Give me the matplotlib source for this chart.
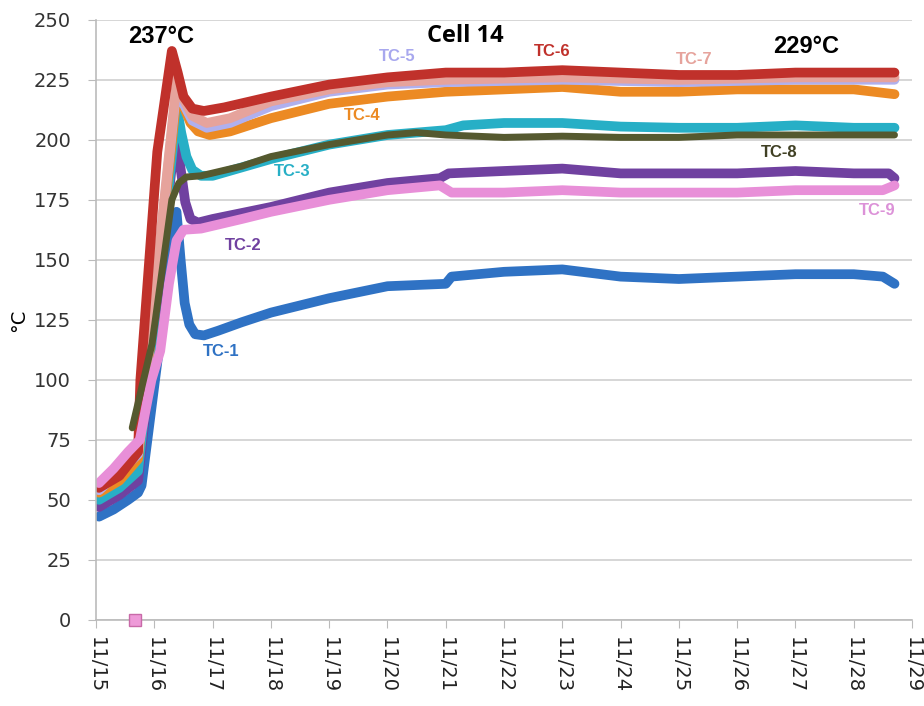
import numpy as np
import matplotlib.pyplot as plt

# time in days since 11/15 00:00, temperature in deg C
t1 = [0.05, 0.3, 0.55, 0.72, 0.78, 1.38, 1.45, 1.52, 1.6, 1.7, 1.85, 2.1, 2.5, 3, 4, 5, 6, 6.1, 7, 8, 9, 10, 11, 12, 13, 13.5, 13.7]
tc1 = [43, 46, 50, 53, 56, 170, 150, 132, 123, 119, 118.5, 120.5, 124, 128, 134, 139, 140, 143, 145, 146, 143, 142, 143, 144, 144, 143, 140]

t2 = [0.05, 0.4, 0.72, 1.37, 1.45, 1.53, 1.62, 1.75, 2, 3, 4, 5, 5.9, 6.05, 7, 8, 9, 10, 11, 12, 13, 13.6, 13.7]
tc2 = [47, 52, 58, 205, 188, 174, 167, 165.5, 167, 172, 178, 182, 184, 186, 187, 188, 186, 186, 186, 187, 186, 186, 184]

t3 = [0.05, 0.4, 0.72, 1.39, 1.46, 1.55, 1.65, 1.8, 2, 3, 4, 5, 6, 6.3, 7, 8, 9, 10, 11, 12, 13, 13.7]
tc3 = [50, 55, 62, 213, 203, 193, 187.5, 185, 185, 192, 198, 202, 204, 206, 207, 207, 205.5, 205, 205, 206, 205, 205]

t4 = [0.05, 0.4, 0.72, 1.4, 1.5, 1.62, 1.75, 1.95, 2.3, 3, 4, 5, 6, 7, 8, 9, 10, 11, 12, 13, 13.7]
tc4 = [53, 58, 67, 222, 214, 207, 203.5, 202, 203.5, 209, 215, 218, 220, 221, 222, 220, 220, 221, 221, 221, 219]

t5 = [0.05, 0.72, 1.39, 1.5, 1.65, 1.9, 2.3, 3, 4, 5, 6, 8, 10, 12, 13.7]
tc5 = [54, 69, 224, 215, 208, 205, 207, 214, 220, 223, 224, 225, 224, 225, 225]

t6 = [0.05, 0.4, 0.72, 0.76, 1.05, 1.3, 1.4, 1.5, 1.65, 1.85, 2.2, 3, 4, 5, 6, 7, 8, 9, 10, 11, 12, 13, 13.7]
tc6 = [55, 60, 70, 100, 195, 237, 228, 218, 213, 212, 213.5, 218, 223, 226, 228, 228, 229, 228, 227, 227, 228, 228, 228]

t7 = [0.05, 0.72, 1.39, 1.5, 1.65, 1.9, 2.3, 3, 4, 5, 6, 8, 10, 12, 13.7]
tc7 = [55, 70, 226, 217, 210, 207, 209, 216, 221, 224, 225, 226, 225, 226, 226]

t8 = [0.62, 0.96, 1.3, 1.42, 1.55, 1.8, 2.5, 3, 4, 5, 5.5, 6, 7, 8, 9, 10, 11, 12, 13, 13.7]
tc8 = [80, 115, 175, 182, 184.5, 185, 189, 193, 198, 202, 203, 202, 201, 201.5, 201, 201, 202, 202, 202, 202]

t9 = [0.05, 0.3, 0.55, 0.75, 0.95, 1.1, 1.25, 1.38, 1.5, 1.8, 2.5, 3, 4, 5, 5.9, 6.1, 7, 8, 9, 10, 11, 12, 13, 13.5, 13.7]
tc9 = [57, 63, 70, 75, 100, 112, 140, 158, 162.5, 163, 167, 170, 175, 179, 181, 178, 178, 179, 178, 178, 178, 179, 179, 179, 181]

day_labels = ["11/15", "11/16", "11/17", "11/18", "11/19", "11/20", "11/21",
              "11/22", "11/23", "11/24", "11/25", "11/26", "11/27", "11/28", "11/29"]

fig = plt.figure(figsize=(9.24, 7.06), dpi=100)
ax = fig.add_axes([0.104, 0.122, 0.883, 0.850])

lw = 7
style = dict(lw=lw, solid_capstyle="round", solid_joinstyle="round")
ax.plot(t1, tc1, color="#2f72c4", **style)
ax.plot(t2, tc2, color="#7041a0", **style)
ax.plot(t3, tc3, color="#27afc6", **style)
ax.plot(t4, tc4, color="#ec8a23", **style)
ax.plot(t5, tc5, color="#b0b0ee", **style)
ax.plot(t7, tc7, color="#e6a39c", **style)
ax.plot(t6, tc6, color="#c0312b", **style)
ax.plot(t9, tc9, color="#e88fd8", **style)
ax.plot(t8, tc8, color="#55592f", lw=5, solid_capstyle="round", solid_joinstyle="round")

# stray point at 0
ax.plot([0.67], [0], marker="s", ms=8, color="#ee9ad8", mec="#c86aa8", mew=1, clip_on=False, zorder=5)

# labels
lab = dict(fontweight="bold", fontsize=12, family=["Liberation Sans", "DejaVu Sans"],
           ha="center", va="center")
ax.text(5.16, 234.6, "TC-5", color="#a8a8ee", **lab)
ax.text(7.82, 236.7, "TC-6", color="#c0312b", **lab)
ax.text(10.26, 233.3, "TC-7", color="#e6a39c", **lab)
ax.text(4.56, 210, "TC-4", color="#ec8a23", **lab)
ax.text(3.36, 186.7, "TC-3", color="#27afc6", **lab)
ax.text(11.72, 194.6, "TC-8", color="#404024", **lab)
ax.text(2.52, 155.8, "TC-2", color="#7041a0", **lab)
ax.text(13.40, 170.4, "TC-9", color="#dc92d8", **lab)
ax.text(2.14, 111.7, "TC-1", color="#2f72c4", **lab)

big = dict(fontweight="bold", fontsize=17, family=["DejaVu Sans Condensed", "Liberation Sans", "DejaVu Sans"],
           ha="center", va="center", color="black")
ax.text(1.12, 243.0, "237°C", **big)
ax.text(12.18, 238.8, "229°C", **big)
ax.text(6.33, 243.3, "Cell 14", fontweight="bold", fontsize=17, ha="center", va="center",
        family=["Open Sans", "DejaVu Sans"])

ax.set_xlim(0, 14)
ax.set_ylim(0, 250)
ax.set_xticks(np.arange(15))
ax.set_xticklabels(day_labels, rotation=270, fontsize=14, color="#222222")
ax.set_yticks(np.arange(0, 251, 25))
ax.tick_params(axis="y", labelsize=14, labelcolor="#333333", length=6, color="#bbbbbb", pad=12)
ax.tick_params(axis="x", length=6, color="#bbbbbb", pad=6)
ax.set_ylabel("°C", fontsize=14, labelpad=4)
ax.grid(axis="y", color="#d0d0d0", lw=1.2)
ax.set_axisbelow(True)
for s in ["top", "right"]:
    ax.spines[s].set_visible(False)
for s in ["left", "bottom"]:
    ax.spines[s].set_color("#bbbbbb")
    ax.spines[s].set_linewidth(1.2)

fig.savefig("out.png", dpi=100)
